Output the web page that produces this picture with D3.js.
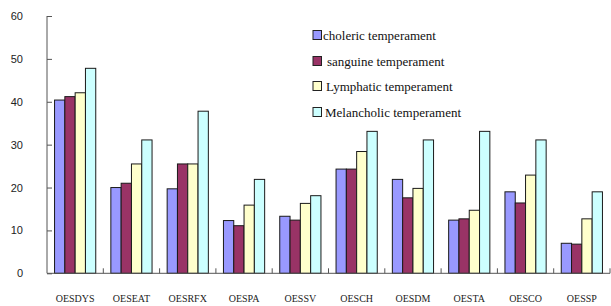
<!DOCTYPE html>
<html><head><meta charset="utf-8">
<script src="https://cdn.jsdelivr.net/npm/d3@7"></script>
<style>body{margin:0;background:#fff}svg{display:block}
.serif{font-family:"Liberation Serif","Times New Roman",serif}
.sans{font-family:"Liberation Sans",Arial,sans-serif}</style>
</head><body>
<svg id="c" width="611" height="306"></svg>
<script>
const categories = ["OESDYS","OESEAT","OESRFX","OESPA","OESSV","OESCH","OESDM","OESTA","OESCO","OESSP"];
const seriesNames = ["choleric temperament","sanguine temperament","Lymphatic temperament","Melancholic temperament"];
const choleric    = [40.4, 20.0, 19.7, 12.3, 13.3, 24.3, 21.9, 12.4, 19.0, 7.0];
const sanguine    = [41.2, 21.0, 25.5, 11.1, 12.4, 24.3, 17.6, 12.7, 16.4, 6.8];
const lymphatic   = [42.1, 25.5, 25.5, 15.9, 16.3, 28.4, 19.8, 14.7, 22.9, 12.7];
const melancholic = [47.8, 31.1, 37.8, 21.9, 18.1, 33.1, 31.1, 33.1, 31.1, 19.0];
const colors = ["#9999FF","#993366","#FFFFCC","#CCFFFF"];
const yTicks = [0,10,20,30,40,50,60];

const series = [choleric, sanguine, lymphatic, melancholic];
const svg = d3.select("#c");
const x0 = 47, x1 = 610, yTop = 16, yBot = 273.3;
const x = d3.scaleBand().domain(categories).range([x0, x1]).paddingInner(0).paddingOuter(0);
const barW = 10.3;
const xs = d3.scaleBand().domain(d3.range(4)).range([0, barW*4]);
const y = d3.scaleLinear().domain([0,60]).range([yBot, yTop]);

// bars
categories.forEach((c, i) => {
  const gx = x(c) + (x.bandwidth() - barW*4)/2;
  series.forEach((s, j) => {
    svg.append("rect")
      .attr("x", gx + xs(j))
      .attr("y", y(s[i]))
      .attr("width", barW)
      .attr("height", y(0) - y(s[i]))
      .attr("fill", colors[j])
      .attr("stroke", "#1a1a1a")
      .attr("stroke-width", 1);
  });
});

// y axis
const yAxis = d3.axisRight(y).tickValues(yTicks).tickSize(5).tickFormat("");
const gy = svg.append("g").attr("transform", `translate(${x0},0)`).call(yAxis);
gy.select(".domain").remove();
gy.selectAll("line").attr("stroke", "#555");
svg.append("line").attr("x1", x0).attr("x2", x0).attr("y1", yTop).attr("y2", yBot).attr("stroke", "#555");
yTicks.forEach(t => {
  svg.append("text").attr("class", "sans").attr("x", 23).attr("y", y(t) + 4).attr("text-anchor", "end")
    .attr("font-size", 11).attr("fill", "#222").text(t);
});

// x axis
svg.append("line").attr("x1", x0).attr("x2", x1).attr("y1", yBot).attr("y2", yBot).attr("stroke", "#555");
categories.forEach((c, i) => {
  const bx = x(c) + x.bandwidth();
  svg.append("line").attr("x1", bx).attr("x2", bx).attr("y1", yBot).attr("y2", yBot - 5).attr("stroke", "#555");
  svg.append("text").attr("class", "serif").attr("x", x(c) + x.bandwidth()/2).attr("y", 302).attr("text-anchor", "middle")
    .attr("font-size", 10).attr("fill", "#222").text(c);
});

// legend
const legY = [35, 61, 86, 112];
const legTX = [323, 327, 326, 325];
seriesNames.forEach((n, j) => {
  svg.append("rect").attr("x", 313).attr("y", legY[j] - 4.5).attr("width", 8.5).attr("height", 9)
    .attr("fill", colors[j]).attr("stroke", "#222").attr("stroke-width", 1);
  svg.append("text").attr("class", "serif").attr("x", legTX[j]).attr("y", legY[j] + 4.5)
    .attr("font-size", 13).attr("fill", "#111").text(n);
});
</script>
</body></html>
